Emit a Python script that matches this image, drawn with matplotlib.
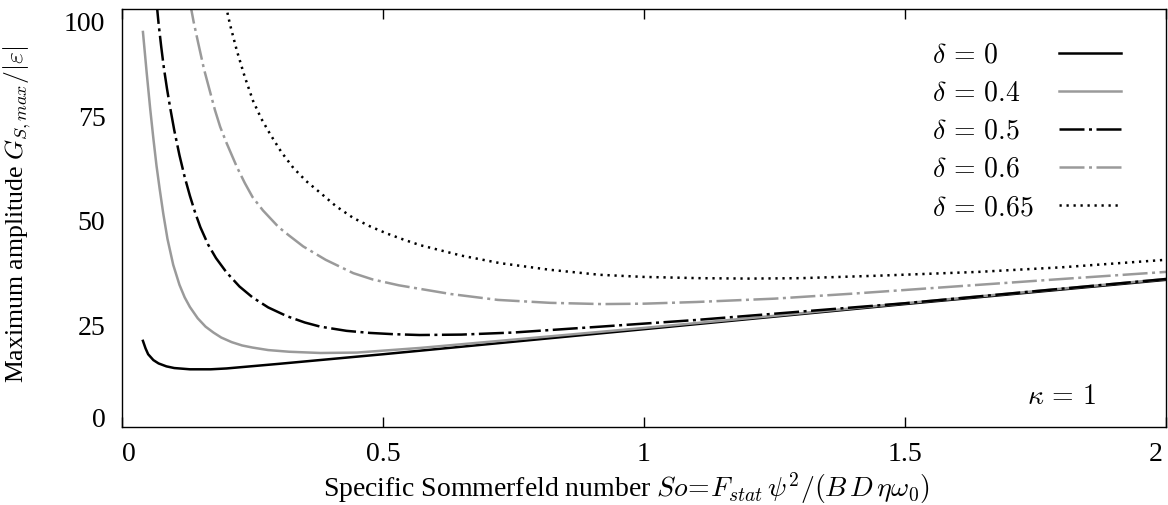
import matplotlib
matplotlib.use('Agg')
import matplotlib.pyplot as plt
import matplotlib.transforms as mtransforms

plt.rcParams['font.family'] = ['Liberation Serif', 'DejaVu Serif']
plt.rcParams['mathtext.fontset'] = 'cm'
plt.rcParams['font.size'] = 20

# specific Sommerfeld number / max amplitude, one pair per delta
so_d0 = [0.04, 0.045, 0.05, 0.06, 0.07, 0.085, 0.10, 0.13, 0.17, 0.20, 0.30, 0.50, 0.75, 1.00, 1.25, 1.50, 1.75, 2.00]
g_d0 = [20.6, 18.8, 17.4, 16.0, 15.2, 14.5, 14.1, 13.8, 13.8, 14.0, 15.1, 17.4, 20.4, 23.4, 26.4, 29.4, 32.3, 35.2]

so_d04 = [0.04, 0.047, 0.054, 0.06, 0.066, 0.072, 0.079, 0.087, 0.098, 0.11, 0.12, 0.13, 0.145, 0.16, 0.175, 0.19,
          0.21, 0.23, 0.25, 0.28, 0.32, 0.38, 0.45, 0.57, 0.75, 1.0, 1.25, 1.5, 1.75, 2.0]
g_d04 = [94.5, 85.0, 76.0, 69.0, 62.5, 57.0, 51.0, 45.0, 38.8, 34.0, 31.0, 28.7, 26.0, 24.0, 22.6, 21.4,
         20.3, 19.5, 19.0, 18.4, 18.0, 17.7, 17.8, 18.9, 20.9, 23.7, 26.6, 29.6, 32.5, 35.4]

so_d05 = [0.065, 0.07, 0.075, 0.08, 0.086, 0.092, 0.10, 0.11, 0.12, 0.13, 0.14, 0.15, 0.165, 0.18, 0.20, 0.225,
          0.25, 0.28, 0.316, 0.35, 0.38, 0.43, 0.475, 0.52, 0.57, 0.65, 0.75, 0.916, 1.1, 1.3, 1.5, 1.75, 2.0]
g_d05 = [103.0, 96.5, 91.0, 86.0, 81.0, 76.5, 71.0, 65.0, 59.8, 55.3, 51.3, 47.8, 43.6, 40.4, 37.0, 33.6,
         31.0, 28.6, 26.5, 25.0, 24.0, 23.0, 22.5, 22.2, 22.0, 22.1, 22.6, 24.0, 25.6, 27.6, 29.6, 32.5, 35.4]

so_d06 = [0.128, 0.137, 0.146, 0.157, 0.169, 0.178, 0.188, 0.20, 0.22, 0.235, 0.25, 0.27, 0.30, 0.32, 0.347, 0.39,
          0.443, 0.48, 0.53, 0.63, 0.72, 0.82, 0.92, 1.0, 1.1, 1.25, 1.4, 1.64, 1.8, 2.0]
g_d06 = [103.0, 97.0, 91.8, 85.6, 80.0, 75.8, 71.8, 68.0, 62.2, 58.4, 55.0, 51.8, 47.8, 45.8, 43.2, 40.0,
         36.8, 35.3, 33.9, 31.8, 30.4, 29.7, 29.4, 29.5, 29.9, 30.7, 31.9, 34.0, 35.4, 37.1]

so_d065 = [0.195, 0.207, 0.22, 0.235, 0.251, 0.267, 0.284, 0.305, 0.328, 0.353, 0.38, 0.41, 0.443, 0.475, 0.507,
           0.54, 0.571, 0.65, 0.724, 0.82, 0.916, 1.0, 1.107, 1.2, 1.3, 1.45, 1.64, 1.8, 2.0]
g_d065 = [103.0, 96.2, 90.0, 83.8, 78.0, 73.7, 70.0, 65.8, 62.0, 58.8, 56.0, 52.8, 50.0, 48.0, 46.3,
          44.8, 43.5, 41.0, 39.2, 37.6, 36.4, 35.9, 35.6, 35.5, 35.6, 36.2, 37.1, 38.2, 40.0]

labels = [r'$\delta\,=\,0$', r'$\delta\,=\,0.4$', r'$\delta\,=\,0.5$', r'$\delta\,=\,0.6$', r'$\delta\,=\,0.65$']
xticks = [0, 0.5, 1, 1.5, 2]
xticklabels = ['0', '0.5', '1', '1.5', '2']
yticks = [0, 25, 50, 75, 100]
yticklabels = ['0', '25', '50', '75', '100']

grey = '#9a9a9a'
lw = 1.8

fig = plt.figure(figsize=(11.68, 5.05), dpi=100)
ax = fig.add_axes([0.1045, 0.1545, 0.8938, 0.8277])

ax.plot(so_d0, g_d0, color='black', lw=lw, label=labels[0])
ax.plot(so_d04, g_d04, color=grey, lw=lw, label=labels[1])
ax.plot(so_d05, g_d05, color='black', lw=lw, dashes=(10, 1.8, 1.2, 1.8), label=labels[2])
ax.plot(so_d06, g_d06, color=grey, lw=lw, dashes=(10, 1.8, 1.2, 1.8), label=labels[3])
ax.plot(so_d065, g_d065, color='black', lw=lw, dashes=(0.9, 1.9), label=labels[4])

ax.set_xlim(0, 2)
ax.set_ylim(0, 100)

ax.set_xticks(xticks)
ax.set_xticklabels(xticklabels)
ax.set_yticks(yticks)
ax.set_yticklabels(yticklabels)
ax.set_yticks([50], minor=True)
ax.tick_params(axis='x', which='major', direction='in', length=7.2, width=1,
               top=True, bottom=True, pad=11)
ax.tick_params(axis='y', which='major', length=0, pad=12)
ax.tick_params(axis='y', which='minor', direction='in', length=7.2, width=1,
               left=True, right=True)
for s in ax.spines.values():
    s.set_linewidth(1.0)

def nudge(lab, dx, dy):
    lab.set_transform(lab.get_transform() +
                      mtransforms.ScaledTranslation(dx / 100, dy / 100, fig.dpi_scale_trans))

xl = ax.get_xticklabels()
nudge(xl[0], 7, 0)
nudge(xl[-1], -10, 0)
yl = ax.get_yticklabels()
nudge(yl[0], 0, 9)
nudge(yl[-1], 0, -13)
for lab in yl[1:-1]:
    nudge(lab, 0, -3)

ax.set_xlabel(r'Specific Sommerfeld number $So\!=\!F_{stat}\,\psi^2/(B\,D\,\eta\omega_0)$')
ax.xaxis.set_label_coords(0.483, -0.105)
ax.set_ylabel(r'Maximum amplitude $G_{S,max}/|\varepsilon|$', fontsize=18.5)
ax.yaxis.set_label_coords(-0.085, 0.51)

ax.text(0.90, 0.07, r'$\kappa\,=\,1$', transform=ax.transAxes, ha='center', va='center')

leg = ax.legend(loc='upper right', bbox_to_anchor=(0.957, 0.918), frameon=False,
                markerfirst=False, handlelength=2.23, handletextpad=1.0,
                labelspacing=0.455, borderpad=0, borderaxespad=0)
for col in leg._legend_handle_box.get_children():
    for row in col.get_children():
        row.mode = 'expand'
        row.width = 189

fig.savefig('out.png', dpi=100)
